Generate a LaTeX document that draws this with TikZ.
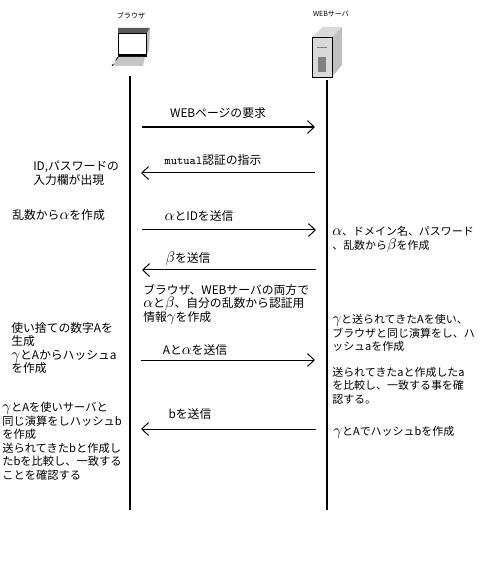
\documentclass[tikz,border=0pt]{standalone}
\usepackage{fontspec}
\setmainfont{Noto Sans CJK JP}
\usetikzlibrary{calc, arrows.meta}
\newcommand{\grk}[1]{{\fontsize{10.5pt}{9.6pt}\selectfont$#1$}}
\tikzset{
  memo/.style={anchor=north west, align=left, inner sep=0pt, font=\fontsize{8.4pt}{9.6pt}\selectfont},
  memoside/.style={memo, font=\fontsize{7.8pt}{9.6pt}\selectfont},
  msg/.style={inner sep=0pt, font=\fontsize{8.4pt}{9.6pt}\selectfont},
  title/.style={inner sep=0pt, font=\fontsize{5pt}{6pt}\selectfont},
  lifeline/.style={line width=0.05cm},
  call/.style={line width=0.025cm, -{Straight Barb[length=1.7mm,width=3.2mm,line width=0.025cm]}}
}

\begin{document}
\begin{tikzpicture}[x=0.025cm, y=-0.025cm]
  \useasboundingbox (0,0) rectangle (480,582);

  % 端末
  \fill[gray!70!black] (118,28) -- (150,28) -- (147,33) -- (118,33) -- cycle;
  \fill[gray!55] (147,33) -- (150,28) -- (149,50) -- (147,54) -- cycle;
  \draw[black, line width=0.02cm, fill=white] (118,33) rectangle (146,54);
  \fill[black] (118,55) rectangle (147,57);
  \fill[gray!45] (118,57) -- (145,57) -- (143,66) -- (112,66) -- cycle;
  \draw[black, dashed, line width=0.02cm] (118,57) -- (112,66);

  % サーバ
  \fill[gray!30] (312,37) -- (332,37) -- (342,27) -- (323,27) -- cycle;
  \fill[gray!50] (332,37) -- (342,27) -- (342,65) -- (332,77) -- cycle;
  \draw[black, line width=0.02cm, fill=gray!30] (312,37) rectangle (332,77);
  \fill[gray] (317,47) rectangle (327,48);
  \fill[gray] (318,57) rectangle (326,72);

  \node[title] (browser) at (131,16) {ブラウザ};
  \node[title] (server) at (331,14) {WEBサーバ};

  % 縦線
  \coordinate (B0) at (130,76);
  \coordinate (B1) at (130,510);
  \coordinate (S0) at (327,80);
  \coordinate (S1) at (327,510);
  \draw[lifeline] (B0) -- (B1);
  \draw[lifeline] (S0) -- (S1);

  % 矢印
  \coordinate (reqB) at (142,127);  \coordinate (reqS) at (315,127);
  \coordinate (mutB) at (141,173);  \coordinate (mutS) at (315,173);
  \coordinate (idB) at (142,230);   \coordinate (idS) at (316,230);
  \coordinate (betaB) at (142,270); \coordinate (betaS) at (316,270);
  \coordinate (hashB) at (141,360); \coordinate (hashS) at (315,360);
  \coordinate (bB) at (141,429);    \coordinate (bS) at (316,429);

  \draw[call, line width=0.05cm] (reqB) -- (reqS);
  \draw[call] (mutS) -- (mutB);
  \draw[call] (idB) -- (idS);
  \draw[call] (betaS) -- (betaB);
  \draw[call] (hashB) -- (hashS);
  \draw[call] (bS) -- (bB);

  \node[msg] (reqL) at (218,113) {WEBページの要求};
  \node[msg] (mutL) at (213,160) {\texttt{mutual}認証の指示};
  \node[msg] (idL) at (199,216) {\grk{\alpha}とIDを送信};
  \node[msg] (betaL) at (188,259) {\grk{\beta}を送信};
  \node[msg] (hashL) at (195,350) {Aと\grk{\alpha}を送信};
  \node[msg] (bL) at (190,414) {bを送信};

  % 左側
  \node[memo] (inputM) at (33,161) {ID,パスワードの\\入力欄が出現};
  \node[memo] (randM) at (12,209) {乱数から\grk{\alpha}を作成};
  \node[memo] (aM) at (11,322) {使い捨ての数字Aを\\生成\\\grk{\gamma}とAからハッシュa\\を作成};
  \node[memo, font=\fontsize{8pt}{9.6pt}\selectfont] (bM) at (2,402) {\grk{\gamma}とAを使いサーバと\\同じ演算をしハッシュb\\を作成\\送られてきたbと作成し\\たbを比較し、一致する\\ことを確認する};

  % 中央
  \node[memo] (bothM) at (143,284) {ブラウザ、WEBサーバの両方で\\\grk{\alpha}と\grk{\beta}、自分の乱数から認証用\\情報\grk{\gamma}を作成};

  % 右側
  \node[memoside] (betaM) at (332,226) {\grk{\alpha}、ドメイン名、パスワード\\、乱数から\grk{\beta}を作成};
  \node[memoside] (calcM) at (332,314) {\grk{\gamma}と送られてきたAを使い、\\ブラウザと同じ演算をし、ハ\\ッシュaを作成};
  \node[memoside] (cmpM) at (332,367) {送られてきたaと作成したa\\を比較し、一致する事を確\\認する。};
  \node[memoside] (hashM) at (333,426) {\grk{\gamma}とAでハッシュbを作成};
\end{tikzpicture}
\end{document}
